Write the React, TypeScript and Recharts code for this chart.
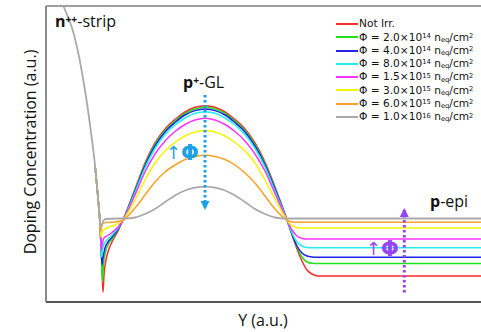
import React from 'react';
import { LineChart, Line, XAxis, YAxis, ReferenceLine } from 'recharts';

type Pt = { x: number; y: number };

// Series legend info
const seriesNames = ['Not Irr.', 'F1', 'F2', 'F3', 'F4', 'F5', 'F6', 'F7'];
const fluenceMantissa = ['2.0', '4.0', '8.0', '1.5', '3.0', '6.0', '1.0'];
const fluenceExp = ['14', '14', '14', '15', '15', '15', '16'];
const seriesColors = ['#FF2A2A', '#22E022', '#2222E6', '#22EEEE', '#FF33FF', '#F5F500', '#FFA126', '#A9A9A9'];

// n++ strip profile (shared by all curves), a.u.
const stripX = [17.5, 21.5, 25.7, 32.3, 37.3, 42, 46, 49, 51.3, 52.8, 53.6];
const stripY = [296, 286, 275, 249, 222, 192, 162, 137, 112, 95, 85];

// Junction dip region (per curve)
const redDipX = [54.5, 55.5, 56.3, 57, 58, 60, 63, 67, 72];
const redDipY = [67, 47, 27, 10, 27, 42, 53, 62, 71];
const greenDipX = [54.6, 55.6, 56.5, 57.5, 59.5, 62, 67, 72];
const greenDipY = [65, 42, 20, 37, 50, 57, 64, 72.5];
const blueDipX = [54.6, 55.4, 56, 57, 59, 62, 67, 72];
const blueDipY = [67, 50, 37, 44, 54, 60, 66, 73];
const cyanDipX = [54.5, 55.5, 56.5, 58, 62, 67, 72];
const cyanDipY = [69, 45, 52, 58, 63, 68, 74];
const magentaDipX = [54.4, 55.3, 56.3, 58, 61, 66, 72];
const magentaDipY = [70, 52, 58, 64, 66, 69.5, 75];
const yellowDipX = [54.3, 55, 56, 58, 62, 69];
const yellowDipY = [74, 65, 69, 72.5, 74.5, 77];
const orangeDipX = [54.2, 54.8, 55.8, 57, 60, 69];
const orangeDipY = [77, 71, 76, 78.5, 79.5, 80];

// p+ gain layer peak
const peakX = [77, 89, 99, 109, 119, 129, 139, 149, 159, 169, 179, 189, 199, 209, 219, 229, 241];
const redPeakY = [82, 113, 139, 159, 173, 182.5, 190, 194.7, 196.3, 194.7, 190, 182.5, 173, 159, 140, 115, 82];
const greenPeakY = [82, 112, 137.5, 157.5, 171.5, 181, 188.5, 193, 194.7, 193, 188.5, 181, 171.5, 157.5, 138.5, 114, 82];
const bluePeakY = [82, 111, 136, 156, 170, 179.5, 187, 191.4, 193, 191.4, 187, 179.5, 170, 156, 137, 113, 82];
const cyanPeakY = [82, 109.5, 134, 153.5, 167.5, 177, 184, 188.7, 190.3, 188.7, 184, 177, 167.5, 153.5, 135, 111, 82];
const magentaPeakY = [82, 107, 130, 148, 161, 170.5, 177.5, 182, 183.7, 182, 177.5, 170.5, 161, 148, 131, 108.5, 82];
const yellowPeakY = [82, 102, 122, 139, 151, 159.5, 166, 170, 171.3, 170, 166, 159.5, 151, 139, 122, 103, 82];
const orangePeakY = [82, 94, 107, 120, 130, 137, 142.5, 145.5, 146.7, 145.5, 142.5, 137, 129, 119, 106, 93, 82];

// p-epi tails
const redTailX = [246, 251, 256, 261, 266, 272, 435];
const redTailY = [67, 53, 41, 32, 28, 26, 26];
const greenTailX = [246, 251, 256, 261, 266, 272, 435];
const greenTailY = [68, 55, 45, 40, 38.7, 38.5, 38.5];
const blueTailX = [246, 251, 256, 261, 266, 272, 435];
const blueTailY = [68, 56, 49, 46, 45, 44.7, 44.7];
const cyanTailX = [246, 251, 256, 261, 266, 435];
const cyanTailY = [69, 60, 56, 54.5, 54.2, 54.2];
const magentaTailX = [246, 251, 256, 261, 435];
const magentaTailY = [72, 66, 63.5, 63, 63];
const yellowTailX = [244, 249, 254, 435];
const yellowTailY = [78, 75, 74, 74];
const orangeTailX = [246, 254, 435];
const orangeTailY = [80, 79.7, 79.7];

// Highest fluence curve (after the strip)
const grayX = [54.3, 54.9, 56, 57.5, 60, 70, 79, 89, 99, 109, 119, 129, 139, 149, 159, 169, 179, 189, 199, 209, 219, 229, 239, 250, 435];
const grayY = [77, 75.5, 78, 81.5, 83, 83.5, 83.5, 84.5, 88, 93, 100, 106.5, 111.5, 114.3, 115.3, 114.3, 111.5, 106.5, 100, 93, 88, 84.5, 83.5, 83.5, 83.5];

// Annotation arrows
const gainArrowX = [159, 159];
const gainArrowY = [207, 92];
const epiArrowX = [358.3, 358.3];
const epiArrowY = [9.5, 94];

const zip = (xs: number[], ys: number[]): Pt[] => xs.map((x, i) => ({ x, y: ys[i] }));
const strip = zip(stripX, stripY);
// colored curves are hidden under the gray one along the upper part of the strip
const stripLow = strip.slice(7);

const seriesData: Pt[][] = [
  [...stripLow, ...zip(redDipX, redDipY), ...zip(peakX, redPeakY), ...zip(redTailX, redTailY)],
  [...stripLow, ...zip(greenDipX, greenDipY), ...zip(peakX, greenPeakY), ...zip(greenTailX, greenTailY)],
  [...stripLow, ...zip(blueDipX, blueDipY), ...zip(peakX, bluePeakY), ...zip(blueTailX, blueTailY)],
  [...stripLow, ...zip(cyanDipX, cyanDipY), ...zip(peakX, cyanPeakY), ...zip(cyanTailX, cyanTailY)],
  [...stripLow, ...zip(magentaDipX, magentaDipY), ...zip(peakX, magentaPeakY), ...zip(magentaTailX, magentaTailY)],
  [...stripLow, ...zip(yellowDipX, yellowDipY), ...zip(peakX, yellowPeakY), ...zip(yellowTailX, yellowTailY)],
  [...stripLow, ...zip(orangeDipX, orangeDipY), ...zip(peakX, orangePeakY), ...zip(orangeTailX, orangeTailY)],
  [...strip, ...zip(grayX, grayY)],
];

const CYAN_ARROW = '#1EA1E4';
const PURPLE_ARROW = '#9645F2';

const makeHead = (dir: 'up' | 'down', color: string) => (props: any) => {
  const { cx, cy, index } = props;
  if (index !== 1 || cx == null || cy == null) return <g key={`h${index}`} />;
  const h = 9;
  const w = 4.5;
  const d =
    dir === 'down'
      ? `M${cx - w},${cy - h} L${cx + w},${cy - h} L${cx},${cy} Z`
      : `M${cx - w},${cy + h} L${cx + w},${cy + h} L${cx},${cy} Z`;
  return <path key={`h${index}`} d={d} fill={color} stroke="none" />;
};

const supStyle: React.CSSProperties = { fontSize: '0.64em', position: 'relative', top: '-0.42em', lineHeight: 0 };
const subStyle: React.CSSProperties = { fontSize: '0.64em', position: 'relative', top: '0.15em', lineHeight: 0 };

const legendLabel = (i: number) => {
  if (i === 0) return <span>{seriesNames[0]}</span>;
  return (
    <span>
      Φ = {fluenceMantissa[i - 1]}×10<span style={supStyle}>{fluenceExp[i - 1]}</span> n
      <span style={subStyle}>eq</span>/cm<span style={supStyle}>2</span>
    </span>
  );
};

const phiStyle = (color: string, left: number, top: number): React.CSSProperties => ({
  position: 'absolute',
  left,
  top,
  fontSize: 21,
  lineHeight: '24px',
  fontWeight: 700,
  color,
  whiteSpace: 'nowrap',
  fontFamily: '"DejaVu Sans", sans-serif',
});

export default function App() {
  return (
    <div
      style={{
        position: 'absolute',
        left: 0,
        top: 0,
        width: 481,
        height: 332,
        background: '#fff',
        fontFamily: '"Open Sans", sans-serif',
        color: '#111',
      }}
    >
      <LineChart width={481} height={332} margin={{ top: 6, right: 0, bottom: 0, left: 0 }}>
        <XAxis
          type="number"
          dataKey="x"
          domain={[0, 435]}
          height={30}
          tick={false}
          tickLine={false}
          axisLine={{ stroke: '#555', strokeWidth: 2 }}
          allowDataOverflow
        />
        <YAxis
          type="number"
          dataKey="y"
          domain={[0, 296]}
          width={46}
          tick={false}
          tickLine={false}
          axisLine={{ stroke: '#666', strokeWidth: 1.5 }}
          allowDataOverflow
        />
        <ReferenceLine y={296} stroke="#808080" strokeWidth={1.5} />
        {seriesData.map((d, i) => (
          <Line
            key={i}
            data={d}
            dataKey="y"
            type="monotone"
            stroke={seriesColors[i]}
            strokeWidth={i === 7 ? 1.8 : 1.5}
            dot={false}
            activeDot={false}
            isAnimationActive={false}
          />
        ))}
        <Line
          data={zip(gainArrowX, gainArrowY)}
          dataKey="y"
          type="linear"
          stroke={CYAN_ARROW}
          strokeWidth={3}
          strokeDasharray="2.5 2.5"
          dot={makeHead('down', CYAN_ARROW)}
          activeDot={false}
          isAnimationActive={false}
        />
        <Line
          data={zip(epiArrowX, epiArrowY)}
          dataKey="y"
          type="linear"
          stroke={PURPLE_ARROW}
          strokeWidth={3}
          strokeDasharray="2.5 2.5"
          dot={makeHead('up', PURPLE_ARROW)}
          activeDot={false}
          isAnimationActive={false}
        />
      </LineChart>

      {/* Legend */}
      <div
        style={{
          position: 'absolute',
          left: 336,
          top: 17.3,
          fontSize: 10.6,
          lineHeight: '13.3px',
          fontFamily: '"DejaVu Sans", sans-serif',
        }}
      >
        {seriesColors.map((c, i) => (
          <div key={i} style={{ display: 'flex', alignItems: 'center', height: 13.3, whiteSpace: 'nowrap' }}>
            <span
              style={{ display: 'inline-block', width: 22, height: 2, background: c, marginRight: 1, flexShrink: 0 }}
            />
            {legendLabel(i)}
          </div>
        ))}
      </div>

      {/* Region labels */}
      <div style={{ position: 'absolute', left: 55, top: 11, fontSize: 16, lineHeight: '20px', whiteSpace: 'nowrap' }}>
        <b>n</b>
        <b style={supStyle}>++</b>-strip
      </div>
      <div style={{ position: 'absolute', left: 183, top: 72, fontSize: 16, lineHeight: '20px', whiteSpace: 'nowrap' }}>
        <b>p</b>
        <b style={supStyle}>+</b>-GL
      </div>
      <div style={{ position: 'absolute', left: 430, top: 191, fontSize: 16, lineHeight: '20px', whiteSpace: 'nowrap' }}>
        <b>p</b>-epi
      </div>

      {/* Fluence arrows */}
      <div style={phiStyle(CYAN_ARROW, 166, 141)}>
        <span style={{ fontWeight: 400, fontSize: 18, position: 'relative', top: -1 }}>↑</span>Φ
      </div>
      <div style={phiStyle(PURPLE_ARROW, 366, 237)}>
        <span style={{ fontWeight: 400, fontSize: 18, position: 'relative', top: -1 }}>↑</span>Φ
      </div>

      {/* Axis titles */}
      <div
        style={{
          position: 'absolute',
          left: 263,
          top: 310,
          transform: 'translateX(-50%)',
          fontSize: 16,
          lineHeight: '20px',
          whiteSpace: 'nowrap',
        }}
      >
        Y (a.u.)
      </div>
      <div
        style={{
          position: 'absolute',
          left: 30,
          top: 152,
          transform: 'translate(-50%, -50%) rotate(-90deg)',
          fontSize: 16,
          lineHeight: '20px',
          whiteSpace: 'nowrap',
        }}
      >
        Doping Concentration (a.u.)
      </div>
    </div>
  );
}
